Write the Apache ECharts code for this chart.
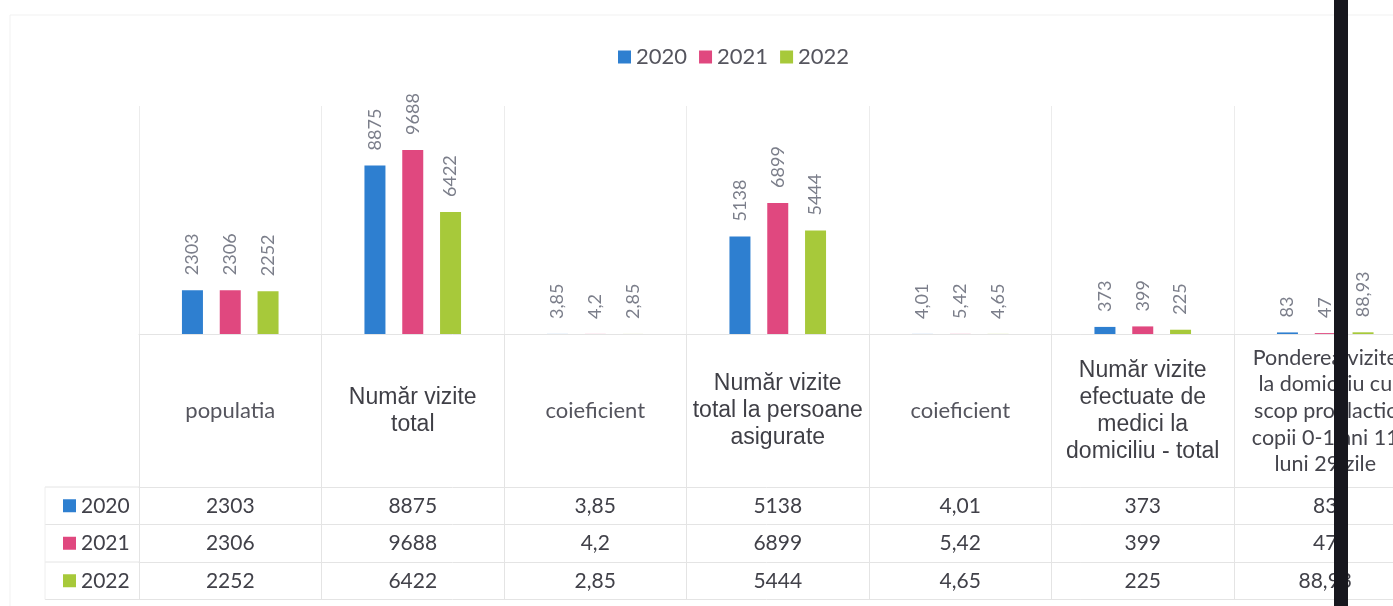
<!DOCTYPE html>
<html>
<head>
<meta charset="utf-8">
<script src="https://cdn.jsdelivr.net/npm/echarts@6/dist/echarts.min.js"></script>
<style>
  html, body { margin: 0; padding: 0; background: #fff; }
  #chart { width: 1393px; height: 606px; }
</style>
</head>
<body>
<div id="chart"></div>
<script>
// categorii (antetul tabelului)
const categories = [
  'populatia',
  'Număr vizite\ntotal',
  'coieficient',
  'Număr vizite\ntotal la persoane\nasigurate',
  'coieficient',
  'Număr vizite\nefectuate de\nmedici la\ndomiciliu - total',
  'Ponderea vizite\nla domiciliu cu\nscop profilactic\ncopii 0-1 ani 11\nluni 29 zile'
]
// which header uses the Arial-like font
const arialHeaders = [false, true, false, true, false, true, false]

const years = ['2020', '2021', '2022']
const values2020 = [2303, 8875, 3.85, 5138, 4.01, 373, 83]
const values2021 = [2306, 9688, 4.2, 6899, 5.42, 399, 47]
const values2022 = [2252, 6422, 2.85, 5444, 4.65, 225, 88.93]
const seriesValues = [values2020, values2021, values2022]

const colors = ['#2e7fd0', '#e0487f', '#a7c93a']

const calibri = 'Lato, "Open Sans", sans-serif'
const arial = '"Liberation Sans", Arial, sans-serif'
const gridLine = '#e4e4e4'

const fmt = v => String(v).replace('.', ',')

// geometry of the grid / data table
const baseY = 334
const rowTops = [153, 190.5, 228]   // offsets of table rows below the axis
const rowH = 37.5
const gridLeft = 139
const gridWidth = 1277.5

const chart = echarts.init(document.getElementById('chart'))

const headerFormatter = (v, i) => {
  const tag = arialHeaders[i] ? 'ar' : (i === 6 ? 'sm' : 'ca')
  return v.split('\n').map(s => '{' + tag + '|' + s + '}').join('\n')
}

// one extra x axis per table row: values are written through the axis labels
const rowAxes = seriesValues.map((vals, k) => ({
  type: 'category',
  position: 'bottom',
  offset: rowTops[k],
  data: vals.map(fmt),
  axisLine: { show: true, onZero: false, lineStyle: { color: gridLine, width: 1 } },
  axisTick: { show: true, length: rowH, lineStyle: { color: gridLine } },
  axisLabel: {
    interval: 0,
    margin: rowH / 2,
    verticalAlign: 'middle',
    fontFamily: calibri,
    fontSize: 21,
    color: '#414149'
  },
  splitLine: { show: false }
}))

// bottom border of the table
const bottomAxis = {
  type: 'category',
  position: 'bottom',
  offset: rowTops[2] + rowH,
  data: categories.map(() => ''),
  axisLine: { show: true, onZero: false, lineStyle: { color: gridLine } },
  axisTick: { show: false },
  axisLabel: { show: false },
  splitLine: { show: false }
}

const graphics = []
// left part of the table: row lines + legend keys
const lineYs = rowTops.concat([rowTops[2] + rowH]).map(o => baseY + o)
lineYs.forEach(y => {
  graphics.push({
    type: 'line', shape: { x1: 45, y1: y, x2: gridLeft, y2: y },
    style: { stroke: gridLine, lineWidth: 1 }, silent: true
  })
})
graphics.push({
  type: 'line', shape: { x1: 45, y1: lineYs[0], x2: 45, y2: lineYs[3] },
  style: { stroke: '#eeeeee', lineWidth: 1 }, silent: true
})
years.forEach((y, k) => {
  const cy = baseY + rowTops[k] + rowH / 2
  graphics.push({
    type: 'rect', shape: { x: 63, y: cy - 6.5, width: 13, height: 13 },
    style: { fill: colors[k] }, silent: true
  })
  graphics.push({
    type: 'text', x: 81, y: cy,
    style: { text: y, fill: '#414149', font: '21px ' + calibri, verticalAlign: 'middle' },
    silent: true
  })
})
// faint outer border of the chart area
graphics.push({
  type: 'rect', shape: { x: 10, y: 15, width: 1400, height: 620 },
  style: { fill: 'none', stroke: '#f1f1f1', lineWidth: 1 }, silent: true
})
// scanner streak across the right side
graphics.push({
  type: 'rect', shape: { x: 1334, y: 0, width: 14, height: 606 },
  style: { fill: '#17171e' }, z: 100, silent: true
})

const option = {
  animation: false,
  color: colors,
  legend: {
    data: years,
    left: 613,
    top: 41,
    icon: 'rect',
    itemWidth: 13,
    itemHeight: 13,
    itemGap: 12,
    textStyle: { fontFamily: calibri, fontSize: 22, color: '#55555e' }
  },
  grid: {
    left: gridLeft,
    top: 106,
    width: gridWidth,
    height: 228,
    containLabel: false,
    outerBoundsMode: 'none'
  },
  xAxis: [
    {
      type: 'category',
      position: 'bottom',
      data: categories,
      axisLine: { show: true, onZero: false, lineStyle: { color: gridLine } },
      axisTick: { show: true, length: rowTops[0], lineStyle: { color: gridLine } },
      splitLine: { show: true, lineStyle: { color: '#ececec' } },
      axisLabel: {
        interval: 0,
        margin: 77,
        verticalAlign: 'middle',
        formatter: headerFormatter,
        rich: {
          ar: { fontFamily: arial, fontSize: 23, lineHeight: 27, color: '#3f3f46', align: 'center' },
          ca: { fontFamily: calibri, fontSize: 22, lineHeight: 27, color: '#55555e', align: 'center' },
          sm: { fontFamily: calibri, fontSize: 21.5, lineHeight: 26.7, color: '#45454d', align: 'center' }
        }
      }
    }
  ].concat(rowAxes, [bottomAxis]),
  yAxis: {
    type: 'value',
    min: 0,
    max: 12000,
    show: false
  },
  series: years.map((y, k) => ({
    name: y,
    type: 'bar',
    xAxisIndex: 0,
    barWidth: 21,
    barGap: '80%',
    data: seriesValues[k],
    label: {
      show: true,
      position: 'top',
      distance: 15,
      rotate: 90,
      align: 'left',
      verticalAlign: 'middle',
      formatter: p => fmt(p.value),
      fontFamily: calibri,
      fontSize: 18,
      color: '#7b7e8a'
    }
  })),
  graphic: graphics
}

chart.setOption(option)
</script>
</body>
</html>
